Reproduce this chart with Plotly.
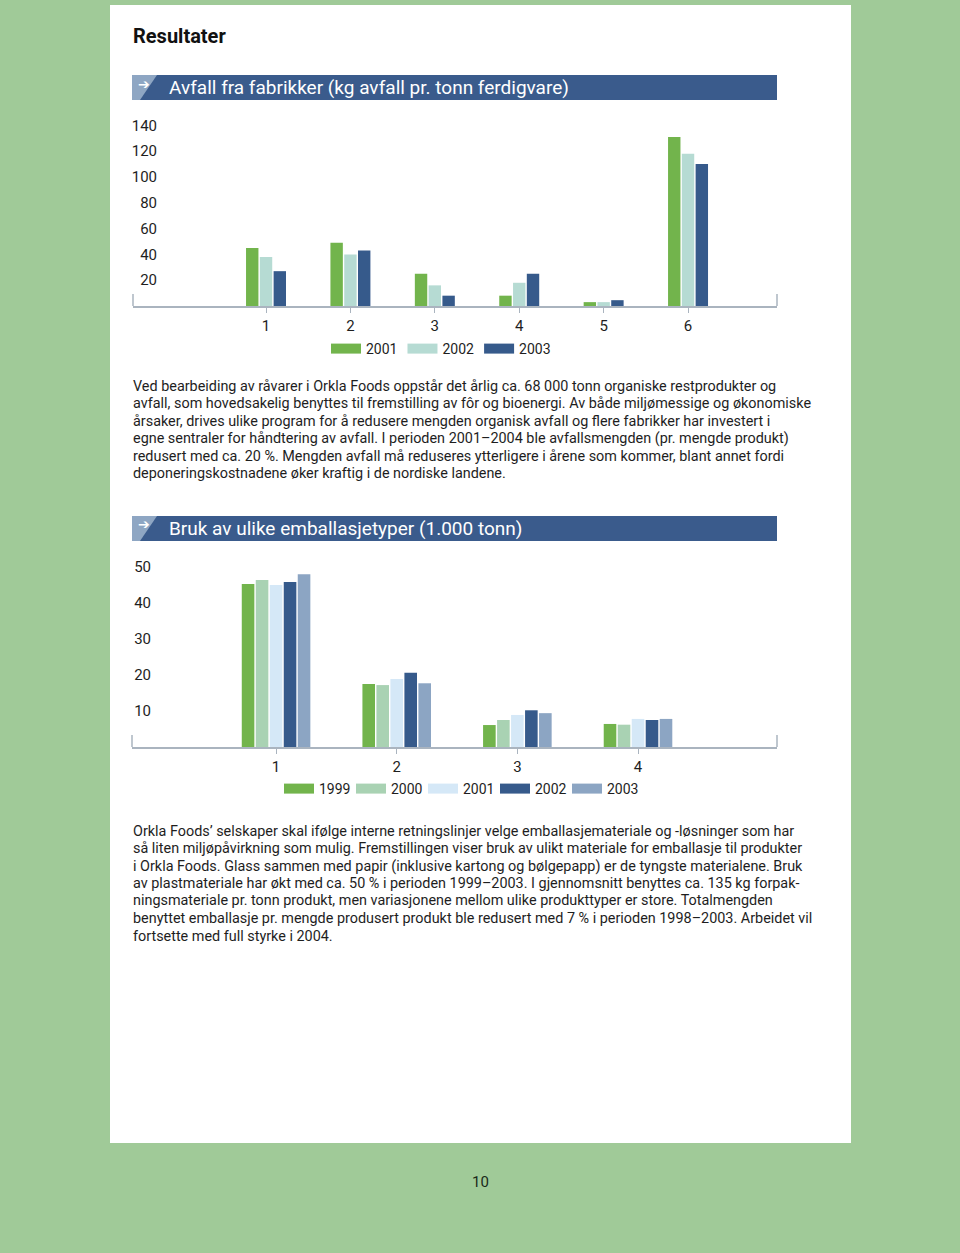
import plotly.graph_objects as go

W, H = 960, 1253

def X(px):
    return px / W

def Y(py):
    return 1 - py / H

# ---------------- data ----------------
cats1 = ["1", "2", "3", "4", "5", "6"]
years1 = ["2001", "2002", "2003"]
v2001 = [45, 49, 25, 8, 3, 131]
v2002 = [38, 40, 16, 18, 3, 118]
v2003 = [27, 43, 8, 25, 4.5, 110]
colors1 = ["#72b44c", "#b6dbd3", "#365a8b"]
y1_ticks = [20, 40, 60, 80, 100, 120, 140]

cats2 = ["1", "2", "3", "4"]
years2 = ["1999", "2000", "2001", "2002", "2003"]
e1999 = [45.3, 17.5, 6.1, 6.4]
e2000 = [46.4, 17.2, 7.5, 6.2]
e2001 = [45.0, 18.9, 8.9, 7.8]
e2002 = [45.8, 20.6, 10.2, 7.5]
e2003 = [48.0, 17.7, 9.4, 7.8]
colors2 = ["#72b44c", "#a9d2b3", "#d5e8f7", "#365a8b", "#8ca5c3"]
y2_ticks = [10, 20, 30, 40, 50]

title1 = "Avfall fra fabrikker (kg avfall pr. tonn ferdigvare)"
title2 = "Bruk av ulike emballasjetyper (1.000 tonn)"

para1 = [
    "Ved bearbeiding av råvarer i Orkla Foods oppstår det årlig ca. 68 000 tonn organiske restprodukter og",
    "avfall, som hovedsakelig benyttes til fremstilling av fôr og bioenergi. Av både miljømessige og økonomiske",
    "årsaker, drives ulike program for å redusere mengden organisk avfall og flere fabrikker har investert i",
    "egne sentraler for håndtering av avfall. I perioden 2001–2004 ble avfallsmengden (pr. mengde produkt)",
    "redusert med ca. 20 %. Mengden avfall må reduseres ytterligere i årene som kommer, blant annet fordi",
    "deponeringskostnadene øker kraftig i de nordiske landene.",
]
para2 = [
    "Orkla Foods’ selskaper skal ifølge interne retningslinjer velge emballasjemateriale og -løsninger som har",
    "så liten miljøpåvirkning som mulig. Fremstillingen viser bruk av ulikt materiale for emballasje til produkter",
    "i Orkla Foods. Glass sammen med papir (inklusive kartong og bølgepapp) er de tyngste materialene. Bruk",
    "av plastmateriale har økt med ca. 50 % i perioden 1999–2003. I gjennomsnitt benyttes ca. 135 kg forpak-",
    "ningsmateriale pr. tonn produkt, men variasjonene mellom ulike produkttyper er store. Totalmengden",
    "benyttet emballasje pr. mengde produsert produkt ble redusert med 7 % i perioden 1998–2003. Arbeidet vil",
    "fortsette med full styrke i 2004.",
]

FONT = "Roboto"
TXT = "#1e1e1e"
AXC = "#aab4bf"
BLUE = "#3a5b8c"
LIGHT = "#8ea6c3"

fig = go.Figure()

# chart 1 bars: narrower groups than chart 2 -> explicit width/offset style
group1 = 0.49
slot1 = group1 / len(years1)
for i, (name, vals, c) in enumerate(zip(years1, [v2001, v2002, v2003], colors1)):
    fig.add_trace(go.Bar(x=cats1, y=vals, name=name, marker=dict(color=c, line=dict(width=0)),
                         width=slot1 * 0.9, offset=-group1 / 2 + i * slot1 + slot1 * 0.05,
                         xaxis="x", yaxis="y", showlegend=False, legendgroup="a" + name))
    fig.add_trace(go.Scatter(x=[None], y=[None], mode="lines", name=name,
                             line=dict(color=c, width=11), xaxis="x", yaxis="y",
                             legend="legend", showlegend=True, legendgroup="a" + name))

# chart 2 bars
for name, vals, c in zip(years2, [e1999, e2000, e2001, e2002, e2003], colors2):
    fig.add_trace(go.Bar(x=cats2, y=vals, name=name, marker=dict(color=c, line=dict(width=0)),
                         xaxis="x2", yaxis="y2", showlegend=False, legendgroup="b" + name))
    fig.add_trace(go.Scatter(x=[None], y=[None], mode="lines", name=name,
                             line=dict(color=c, width=11), xaxis="x2", yaxis="y2",
                             legend="legend2", showlegend=True, legendgroup="b" + name))

xcommon = dict(type="category", showline=True, linecolor=AXC, linewidth=1.5,
               ticks="outside", ticklen=5, tickcolor=AXC, tickwidth=1.2,
               tickfont=dict(family=FONT, size=15, color=TXT), showgrid=False,
               zeroline=False, fixedrange=True)
ycommon = dict(showline=False, showgrid=False, zeroline=False, ticks="",
               tickfont=dict(family=FONT, size=15, color=TXT), anchor="free", fixedrange=True)

fig.update_layout(
    width=W, height=H,
    margin=dict(l=0, r=0, t=0, b=0),
    paper_bgcolor="#a0ca98",
    plot_bgcolor="rgba(0,0,0,0)",
    barmode="group",
    bargap=0.42, bargroupgap=0.1,
    xaxis=dict(domain=[X(133), X(777)], range=[-1.576, 6.054], anchor="y", **xcommon),
    yaxis=dict(domain=[Y(306), Y(112.5)], range=[0, 150], tickvals=y1_ticks,
               position=X(157), **ycommon),
    xaxis2=dict(domain=[X(132), X(777)], range=[-1.194, 4.152], anchor="y2", **xcommon),
    yaxis2=dict(domain=[Y(747), Y(549)], range=[0, 55], tickvals=y2_ticks,
                position=X(151), **ycommon),
    legend=dict(orientation="h", x=X(326), y=Y(349), xanchor="left", yanchor="middle",
                font=dict(family=FONT, size=14, color=TXT), bgcolor="rgba(0,0,0,0)",
                itemwidth=30, tracegroupgap=0),
    legend2=dict(orientation="h", x=X(279), y=Y(789), xanchor="left", yanchor="middle",
                 font=dict(family=FONT, size=14, color=TXT), bgcolor="rgba(0,0,0,0)",
                 itemwidth=30, tracegroupgap=0, entrywidth=27, entrywidthmode="pixels"),
    showlegend=True,
)

shapes = []
# white page panel
shapes.append(dict(type="rect", xref="paper", yref="paper", x0=X(110), x1=X(851), y0=Y(1143), y1=Y(5),
                   fillcolor="white", line=dict(width=0), layer="below"))
# chart headers
for top, bot in [(75, 100), (516, 541)]:
    shapes.append(dict(type="rect", xref="paper", yref="paper", x0=X(132), x1=X(777), y0=Y(bot), y1=Y(top),
                       fillcolor=BLUE, line=dict(width=0), layer="below"))
    path = "M {},{} L {},{} L {},{} L {},{} Z".format(X(132), Y(top), X(157), Y(top), X(140), Y(bot), X(132), Y(bot))
    shapes.append(dict(type="path", xref="paper", yref="paper", path=path,
                       fillcolor=LIGHT, line=dict(width=0), layer="below"))
# axis end caps
for xp, y0p, y1p in [(133, 306, 294), (777, 306, 294), (132, 747, 735), (777, 747, 735)]:
    shapes.append(dict(type="line", xref="paper", yref="paper", x0=X(xp), x1=X(xp), y0=Y(y0p), y1=Y(y1p),
                       line=dict(color=AXC, width=1.5)))
fig.update_layout(shapes=shapes)

ann = []
ann.append(dict(text="<b>Resultater</b>", x=X(131), y=Y(36), xref="paper", yref="paper",
                xanchor="left", yanchor="middle", showarrow=False,
                font=dict(family=FONT, size=20, color="#111")))
for t, yc in [(title1, 88), (title2, 528)]:
    ann.append(dict(text=t, x=X(167), y=Y(yc), xref="paper", yref="paper", xanchor="left",
                    yanchor="middle", showarrow=False, font=dict(family=FONT, size=19, color="white")))
    ann.append(dict(text="➔", x=X(144), y=Y(yc - 4), xref="paper", yref="paper", xanchor="center",
                    yanchor="middle", showarrow=False, font=dict(family="DejaVu Sans", size=14, color="white")))
for lines, yfirst in [(para1, 386), (para2, 831)]:
    for k, line in enumerate(lines):
        ann.append(dict(text=line, x=X(131), y=Y(yfirst + k * 17.5), xref="paper", yref="paper",
                        xanchor="left", yanchor="middle", align="left", showarrow=False,
                        font=dict(family=FONT, size=14.4, color=TXT)))
ann.append(dict(text="10", x=X(480), y=Y(1182), xref="paper", yref="paper", xanchor="center",
                yanchor="middle", showarrow=False, font=dict(family=FONT, size=15, color="#1a2a1a")))
fig.update_layout(annotations=ann)

fig.write_html("out.html", config={"displayModeBar": False})
